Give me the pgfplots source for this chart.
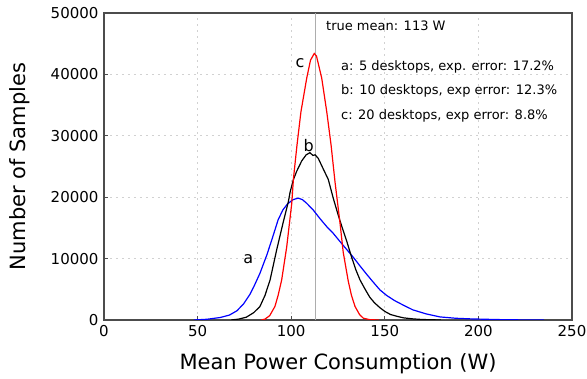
\documentclass[border=0pt]{standalone}
\usepackage{pgfplots}
\pgfplotsset{compat=1.18}
\usepackage{fontspec}
\setmainfont{DejaVu Sans}
\definecolor{framecol}{gray}{0.3}
\definecolor{gridcol}{gray}{0.82}
\definecolor{meancol}{gray}{0.68}
\begin{document}
\begin{tikzpicture}
\begin{axis}[
  scale only axis,
  width=468pt, height=307pt,
  xmin=0, xmax=250, ymin=0, ymax=50000,
  xtick={0,50,100,150,200,250},
  ytick={0,10000,20000,30000,40000,50000},
  scaled y ticks=false,
  /pgf/number format/assume math mode=true,
  /pgf/number format/.cd, 1000 sep={}, /pgfplots/.cd,
  tick align=inside,
  xtick pos=left, ytick pos=left,
  major tick length=4pt,
  tick style={framecol, line width=0.8pt},
  axis line style={framecol, line width=1.2pt},
  grid=major,
  major grid style={gridcol, dash pattern=on 2pt off 4pt, line width=0.6pt},
  tick label style={font=\fontsize{15}{18}\selectfont},
  xticklabel style={yshift=-2pt},
  yticklabel style={xshift=-2pt},
  xlabel={Mean Power Consumption (W)},
  ylabel={Number of Samples},
  label style={font=\fontsize{21}{25}\selectfont},
  xlabel style={at={(axis description cs:0.5,-0.143)}, anchor=center},
  ylabel style={at={(axis description cs:-0.18,0.5)}, anchor=center},
]
\addplot[meancol, line width=1.8pt] coordinates {(113,0) (113,50000)};
% a: 5 desktops
\addplot[blue, line width=1.2pt] coordinates {
(48,0) (55,120) (62,400) (67,800) (71,1500) (74.5,2600) (78,4200) (80,5400)
(83.3,7600) (87,10600) (90,13400) (93,16300) (95.5,17900) (98,18900) (101,19600)
(103.8,19850) (106,19600) (108.3,19000) (111.8,17900) (115.4,16500)
(119,15200) (122.5,14100) (126,12800) (129.6,11500) (133.2,10200)
(136.5,8900) (140.3,7450) (144,6100) (147.4,4900) (151,4000) (155,3200)
(160,2400) (165,1650) (172,1000) (179.5,500) (188,280) (196,180) (210,70)
(222,20) (235,0)};
% b: 10 desktops
\addplot[black, line width=1.2pt] coordinates {
(68,0) (72,150) (76,450) (80,1200) (83.3,2200) (86,4000) (88.7,6500)
(92.3,11500) (95.8,16000) (98.5,19300) (99.4,20800) (101.1,22800)
(102.9,24200) (105.6,25900) (108,26900) (110,27250) (111.6,26800)
(112.8,26900) (114.5,26300) (116.5,25000) (119.8,22900) (122.5,19800)
(125.2,17000) (127.3,15000) (129.8,12700) (132.3,10200) (134.5,8200)
(136.8,6500) (139.5,5000) (142,3700) (144.5,2800) (147.4,2000) (150,1400)
(153,900) (156.5,600) (160,350) (165,180) (170,80) (180,0)};
% c: 20 desktops
\addplot[red, line width=1.2pt] coordinates {
(84,0) (86,150) (88.5,700) (91.3,2200) (93,4000) (94.9,6500) (97.6,11900)
(100.3,19000) (101.2,23000) (103.1,28500) (105.2,33900) (108.3,39400)
(110.3,42300) (112.3,43400) (113.5,43000) (116.3,39400) (119,33900)
(121.3,28500) (123.4,22500) (126,16000) (127.8,11000) (130.5,6300)
(132.2,4000) (134.1,2200) (136.5,900) (138.5,300) (142,50) (147,0)};
\node[anchor=west, font=\fontsize{13}{15}\selectfont] at (axis cs:116.8,47880) {true mean: 113 W};
\node[anchor=west, font=\fontsize{13}{15}\selectfont] at (axis cs:124.8,41260) {a: 5 desktops, exp. error: 17.2\%};
\node[anchor=west, font=\fontsize{13}{15}\selectfont] at (axis cs:124.8,37300) {b: 10 desktops, exp error: 12.3\%};
\node[anchor=west, font=\fontsize{13}{15}\selectfont] at (axis cs:124.8,33270) {c: 20 desktops, exp error: 8.8\%};
\node[font=\fontsize{16}{18}\selectfont] at (axis cs:104.7,41900) {c};
\node[font=\fontsize{16}{18}\selectfont] at (axis cs:109.3,28390) {b};
\node[font=\fontsize{16}{18}\selectfont] at (axis cs:77.1,9930) {a};
\end{axis}
\pgfresetboundingbox
\path[use as bounding box] ([xshift=-104pt,yshift=-59pt]current axis.south west) rectangle ([xshift=15pt,yshift=13pt]current axis.north east);
\end{tikzpicture}
\end{document}
